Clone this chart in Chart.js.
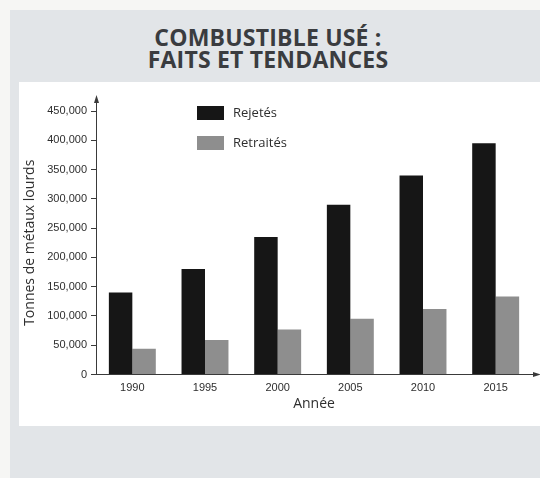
<!DOCTYPE html>
<html lang="fr">
<head>
<meta charset="utf-8">
<script src="https://cdn.jsdelivr.net/npm/chart.js@4"></script>
<style>
    html, body {
        margin: 0;
        padding: 0;
        width: 540px;
        height: 478px;
        background: #f6f6f4;
        overflow: hidden;
    }
    #panneau {
        position: absolute;
        left: 10px;
        top: 10px;
        width: 530px;
        height: 468px;
        background: #e2e5e8;
    }
    #titre {
        position: absolute;
        left: 0;
        top: 16px;
        width: 516px;
        text-align: center;
        font-family: "Open Sans", sans-serif;
        font-weight: 700;
        font-size: 23px;
        line-height: 22px;
        letter-spacing: 0.2px;
        color: #3a3c3f;
    }
    #cadre {
        position: absolute;
        left: 19px;
        top: 82px;
        width: 521px;
        height: 344px;
        background: #ffffff;
    }
</style>
</head>
<body>
<div id="panneau">
    <div id="titre">COMBUSTIBLE USÉ :<br>FAITS ET TENDANCES</div>
</div>
<div id="cadre">
    <canvas id="graphique" width="521" height="344"></canvas>
</div>
<script>
const annees = ['1990', '1995', '2000', '2005', '2010', '2015'];
const rejetes = [140000, 180000, 235000, 290000, 340000, 395000];
const retraites = [44000, 59000, 77000, 95000, 112000, 133000];
const series = ['Rejetés', 'Retraités'];
const maxY = 450000;
const pasY = 50000;

const couleurTexte = '#2e2e2e';
const couleurAxe = '#3a3a3a';

// légende verticale dessinée dans le graphique, comme sur l'original
const legende = {
    id: 'legende',
    afterDraw(chart) {
        const ctx = chart.ctx;
        ctx.save();
        chart.data.datasets.forEach((ds, i) => {
            const y = 24 + i * 30;
            ctx.fillStyle = ds.backgroundColor;
            ctx.fillRect(178, y, 27, 14);
            ctx.fillStyle = couleurTexte;
            ctx.font = '13px "Open Sans", sans-serif';
            ctx.textBaseline = 'middle';
            ctx.fillText(ds.label, 214, y + 7);
        });
        ctx.restore();
    }
};

// flèches au bout des axes
const fleches = {
    id: 'fleches',
    afterDraw(chart) {
        const ctx = chart.ctx;
        const a = chart.chartArea;
        const x0 = a.left + 0.5;
        const y0 = a.bottom;
        ctx.save();
        ctx.strokeStyle = couleurAxe;
        ctx.fillStyle = couleurAxe;
        ctx.lineWidth = 1;
        ctx.beginPath();
        ctx.moveTo(x0, a.top);
        ctx.lineTo(x0, 18);
        ctx.moveTo(a.right, y0);
        ctx.lineTo(a.right + 4, y0);
        ctx.stroke();
        ctx.beginPath();
        ctx.moveTo(x0, 13);
        ctx.lineTo(x0 - 2.5, 21);
        ctx.lineTo(x0 + 2.5, 21);
        ctx.closePath();
        ctx.fill();
        ctx.beginPath();
        ctx.moveTo(a.right + 9, y0);
        ctx.lineTo(a.right + 1, y0 - 2.5);
        ctx.lineTo(a.right + 1, y0 + 2.5);
        ctx.closePath();
        ctx.fill();
        ctx.restore();
    }
};

new Chart(document.getElementById('graphique'), {
    type: 'bar',
    data: {
        labels: annees,
        datasets: [{
            label: series[0],
            data: rejetes,
            backgroundColor: '#161616'
        }, {
            label: series[1],
            data: retraites,
            backgroundColor: '#8e8e8e'
        }]
    },
    options: {
        responsive: false,
        animation: false,
        layout: {
            padding: { top: 29, right: 8, left: 0, bottom: 0 }
        },
        datasets: {
            bar: {
                barPercentage: 1,
                categoryPercentage: 0.646
            }
        },
        plugins: {
            legend: { display: false },
            tooltip: { enabled: false }
        },
        scales: {
            x: {
                grid: { display: false, drawTicks: false },
                border: { color: couleurAxe, width: 1 },
                ticks: {
                    color: couleurTexte,
                    font: { family: 'Arial, "Liberation Sans", sans-serif', size: 11 },
                    padding: 7
                },
                title: {
                    display: true,
                    text: 'Année',
                    color: couleurTexte,
                    font: { family: '"Open Sans", sans-serif', size: 14 },
                    padding: { top: 0, bottom: 14 }
                },
                afterFit(scale) {
                    scale.height = 51.5;
                }
            },
            y: {
                min: 0,
                max: maxY,
                grid: {
                    drawOnChartArea: false,
                    drawTicks: true,
                    tickLength: 5,
                    color: couleurAxe
                },
                border: { color: couleurAxe, width: 1 },
                ticks: {
                    stepSize: pasY,
                    color: couleurTexte,
                    padding: 4,
                    font: { family: 'Arial, "Liberation Sans", sans-serif', size: 11 },
                    callback: (v) => v.toLocaleString('en-US')
                },
                title: {
                    display: true,
                    text: 'Tonnes de métaux lourds',
                    color: couleurTexte,
                    font: { family: '"Open Sans", sans-serif', size: 14 },
                    padding: { top: 3, bottom: 0 }
                },
                afterFit(scale) {
                    scale.width = 77;
                }
            }
        }
    },
    plugins: [legende, fleches]
});
</script>
</body>
</html>
